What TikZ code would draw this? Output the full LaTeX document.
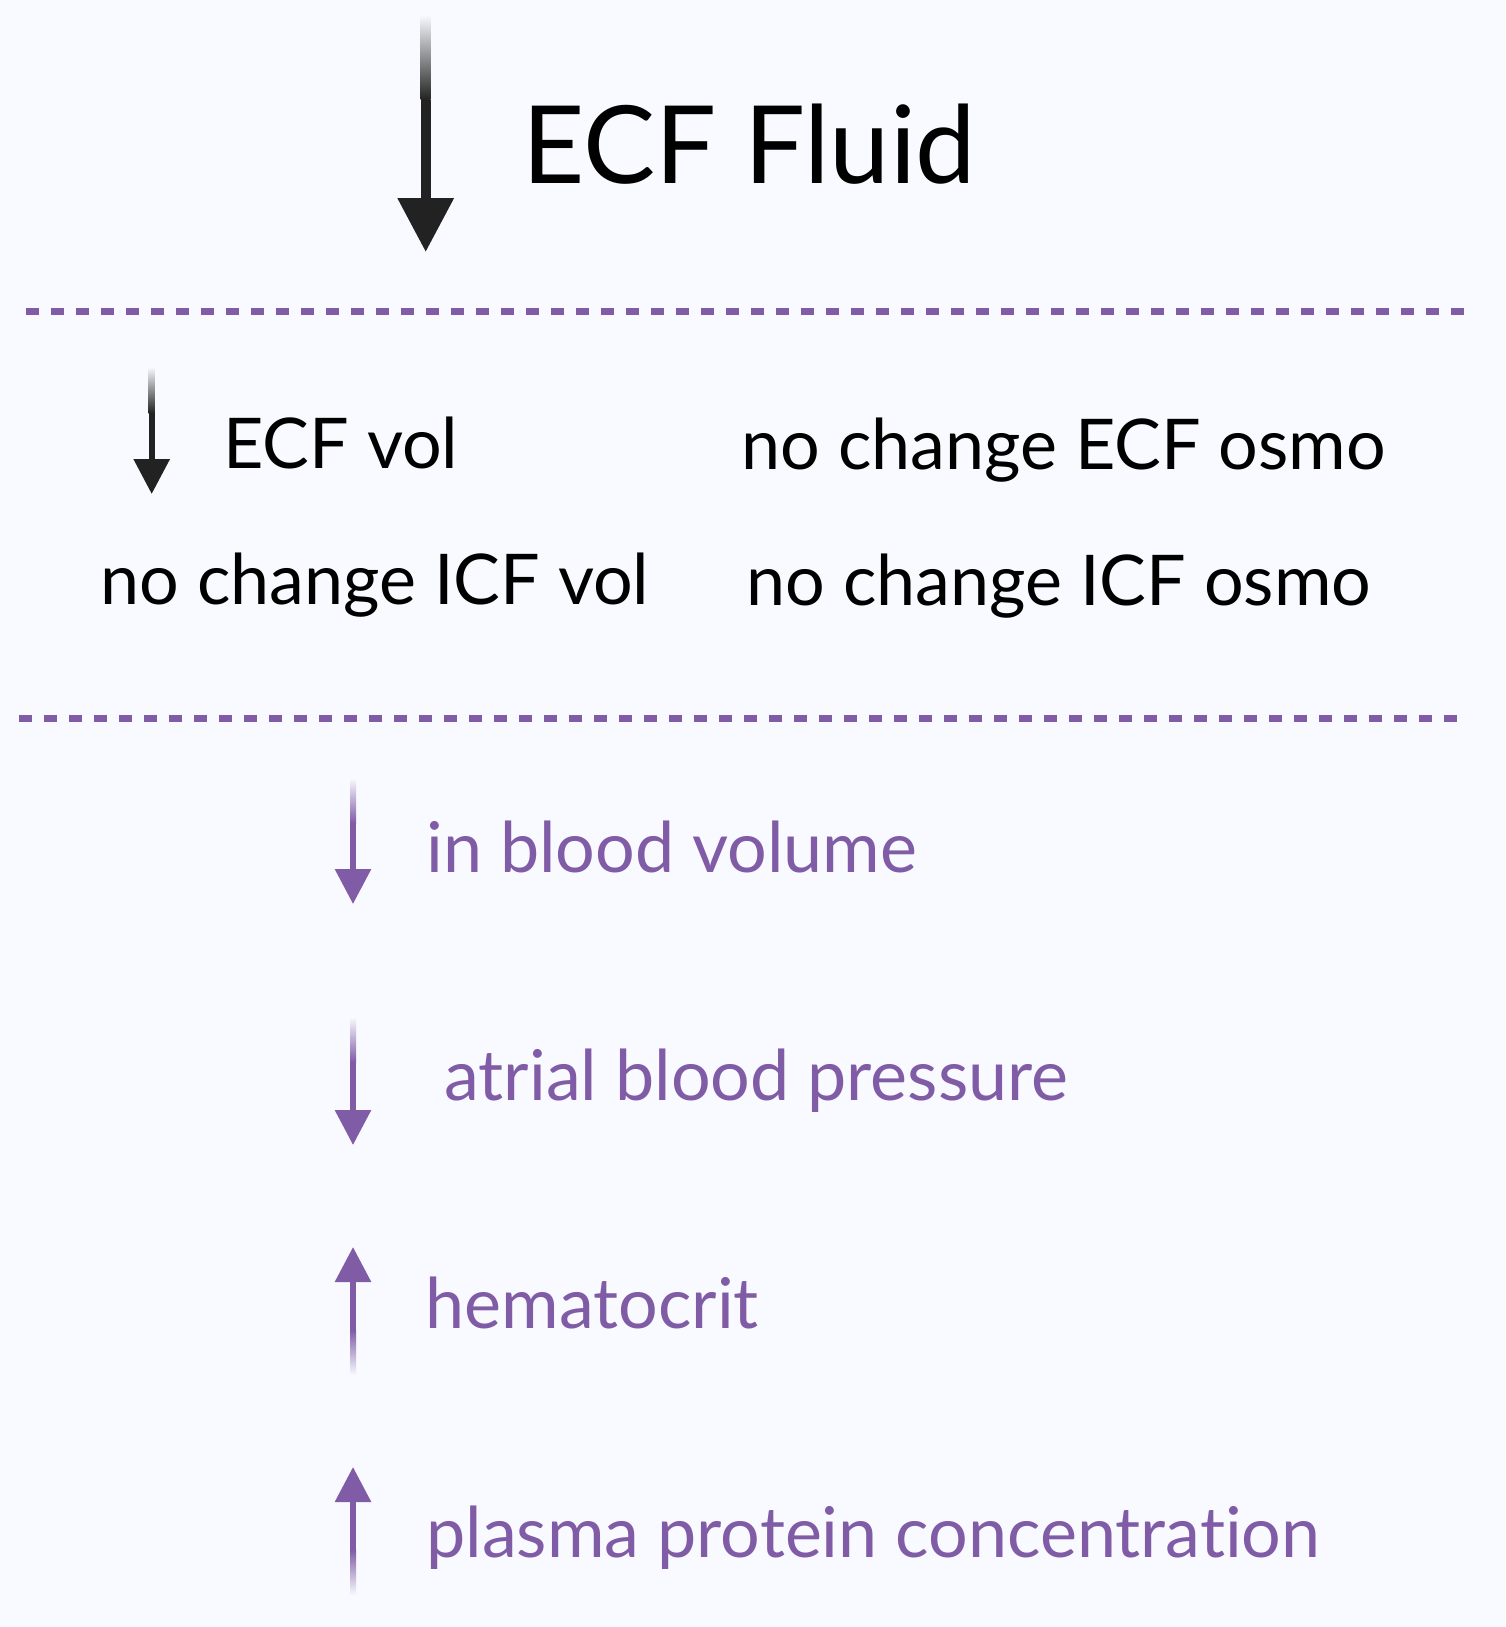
\documentclass[tikz,border=0pt]{standalone}
\usepackage{fontspec}
\setmainfont[Ligatures={NoCommon}]{Lato}
\usetikzlibrary{arrows.meta,calc}
\definecolor{paper}{RGB}{248,250,255}
\definecolor{lilac}{RGB}{128,92,166}
\definecolor{ink}{RGB}{34,34,34}

\begin{document}
\begin{tikzpicture}
      [ x = .5pt, y = -.5pt
      , label/.style =
        { anchor = base west, inner sep = 0pt }
      , heading/.style =
        { label, font = \fontsize{54}{60}\selectfont }
      , entry/.style =
        { label, font = \fontsize{35}{40}\selectfont }
      , divider/.style =
        { lilac, line width = 3.5pt, dash pattern = on 6.25pt off 6.25pt }
      , bigtip/.style =
        { ink, line width = 5pt, -{Triangle[length=27pt, width=27pt]} }
      , smalltip/.style =
        { line width = 3pt, -{Triangle[length=17.5pt, width=17.5pt]} }
      ]
      \fill [paper] (0, 0) rectangle (1505, 1627);
      \useasboundingbox (0, 0) rectangle (1505, 1627);
      % heading
      \coordinate (fluidtail) at (425.7, 15);
      \coordinate (fluidmid) at (425.7, 100);
      \coordinate (fluidtip) at (425.7, 252);
      \node [heading] (fluid) at (522, 184) {ECF Fluid};
      \shade [top color=paper, bottom color=ink] ($(fluidtail)+(-5,0)$) rectangle ($(fluidmid)+(5,0)$);
      \draw [bigtip] (fluidmid) to (fluidtip);
      \draw [divider] (26, 311) -- (1465, 311);
      % volumes and osmolarity
      \coordinate (voltail) at (151.7, 367);
      \coordinate (volmid) at (151.7, 413);
      \coordinate (voltip) at (151.7, 494);
      \shade [top color=paper, bottom color=ink] ($(voltail)+(-3,0)$) rectangle ($(volmid)+(3,0)$);
      \draw [smalltip,ink] (volmid) to (voltip);
      \node [entry] (ecfvol) at (223, 468) {ECF vol};
      \node [entry] (ecfosmo) at (741, 469) {no change ECF osmo};
      \node [entry] (icfvol) at (100, 604) {no change ICF vol};
      \node [entry] (icfosmo) at (746, 605) {no change ICF osmo};
      \draw [divider] (19, 718) -- (1458, 718);
      % blood
      \coordinate (bloodtail) at (353, 778);
      \coordinate (bloodmid) at (353, 823);
      \coordinate (bloodtip) at (353, 904);
      \shade [top color=paper, bottom color=lilac] ($(bloodtail)+(-3,0)$) rectangle ($(bloodmid)+(3,0)$);
      \draw [smalltip,lilac] (bloodmid) to (bloodtip);
      \node [entry,lilac] (blood) at (426, 872) {in blood volume};
      \coordinate (atrialtail) at (353, 1017);
      \coordinate (atrialmid) at (353, 1062);
      \coordinate (atrialtip) at (353, 1145);
      \shade [top color=paper, bottom color=lilac] ($(atrialtail)+(-3,0)$) rectangle ($(atrialmid)+(3,0)$);
      \draw [smalltip,lilac] (atrialmid) to (atrialtip);
      \node [entry,lilac] (atrial) at (444, 1100) {atrial blood pressure};
      \coordinate (hcttail) at (353, 1375);
      \coordinate (hctmid) at (353, 1330);
      \coordinate (hcttip) at (353, 1247);
      \shade [top color=lilac, bottom color=paper] ($(hctmid)+(-3,0)$) rectangle ($(hcttail)+(3,0)$);
      \draw [smalltip,lilac] (hctmid) to (hcttip);
      \node [entry,lilac] (hct) at (425, 1328) {hematocrit};
      \coordinate (plasmatail) at (353, 1595);
      \coordinate (plasmamid) at (353, 1550);
      \coordinate (plasmatip) at (353, 1467);
      \shade [top color=lilac, bottom color=paper] ($(plasmamid)+(-3,0)$) rectangle ($(plasmatail)+(3,0)$);
      \draw [smalltip,lilac] (plasmamid) to (plasmatip);
      \node [entry,lilac] (plasma) at (426, 1557) {plasma protein concentration};
    \end{tikzpicture}
\end{document}
